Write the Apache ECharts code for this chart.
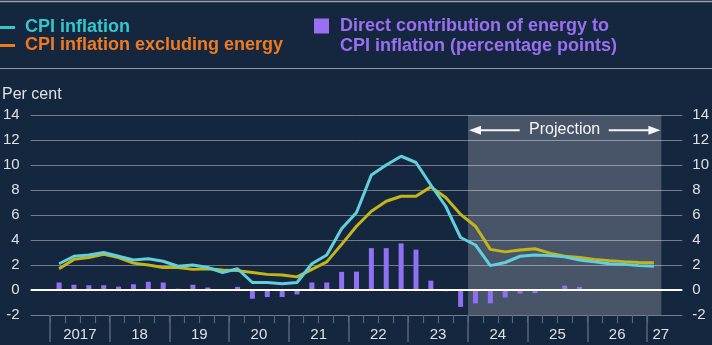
<!DOCTYPE html>
<html><head><meta charset="utf-8">
<script src="https://cdn.jsdelivr.net/npm/echarts@6/dist/echarts.min.js"></script>
<style>html,body{margin:0;padding:0;background:#15263f}#c{width:712px;height:345px}</style>
</head><body><div id="c"></div><script>
// Quarterly data, 2017 Q1 .. 2027 Q1 (projection from 2024 Q1)
const yearLabels = ['2017','18','19','20','21','22','23','24','25','26','27'];
const cpi = [2.1, 2.7, 2.8, 3.0, 2.7, 2.4, 2.5, 2.3, 1.9, 2.0, 1.8, 1.4, 1.7, 0.6, 0.6, 0.5, 0.6, 2.1, 2.8, 4.9, 6.2, 9.2, 10.0, 10.7, 10.2, 8.4, 6.7, 4.2, 3.6, 1.95, 2.2, 2.7, 2.8, 2.75, 2.65, 2.4, 2.25, 2.1, 2.05, 1.95, 1.9];
const cpiExEnergy = [1.7, 2.45, 2.6, 2.85, 2.6, 2.15, 2.0, 1.8, 1.8, 1.65, 1.7, 1.6, 1.55, 1.4, 1.25, 1.2, 1.05, 1.65, 2.25, 3.65, 5.1, 6.3, 7.1, 7.5, 7.5, 8.25, 7.4, 6.05, 5.1, 3.25, 3.05, 3.2, 3.3, 2.95, 2.7, 2.6, 2.45, 2.35, 2.27, 2.2, 2.18];
const energyContribution = [0.6, 0.42, 0.38, 0.38, 0.27, 0.46, 0.66, 0.6, 0.1, 0.42, 0.2, 0.0, 0.25, -0.7, -0.56, -0.56, -0.35, 0.6, 0.6, 1.45, 1.47, 3.35, 3.35, 3.73, 3.23, 0.75, -0.1, -1.35, -1.07, -1.07, -0.6, -0.28, -0.25, -0.03, 0.35, 0.25, 0.05, 0.02, 0.0, 0.0, 0.0];
const projectionStartQuarter = 28; // 2024 Q1
const projectionEndQuarter = 41;   // end of 2027 Q1
const yMin = -2, yMax = 14, yStep = 2;

const FONT = '"Liberation Sans", Arial, sans-serif';
const LABEL = '#dde1e6';
const TICK = '#56657a';
const names = ['CPI inflation', 'CPI inflation excluding energy', 'Direct contribution of energy to\nCPI inflation (percentage points)'];
const toXY = arr => arr.map((v, i) => [i + 0.5, v]);

const chart = echarts.init(document.getElementById('c'), null, {renderer: 'canvas'});
chart.setOption({
  backgroundColor: '#15263f',
  animation: false,
  textStyle: {fontFamily: FONT},
  grid: [
    {left: 29, right: 29, top: 115, bottom: 30},
    {left: 50, right: 65, top: 115, bottom: 30},
    {left: 50, right: 65, top: 115, bottom: 30}
  ],
  legend: [{
    left: 0, top: 17.5, padding: 0, orient: 'vertical', itemGap: -2, itemWidth: 15, itemHeight: 3, icon: 'rect',
    selectedMode: false,
    textStyle: {fontSize: 18, fontWeight: 'bold', lineHeight: 20, padding: [0, 0, 0, 5], fontFamily: FONT},
    data: [
      {name: names[0], itemStyle: {color: '#35c6cc'}, textStyle: {color: '#35c6cc'}},
      {name: names[1], itemStyle: {color: '#f07a22'}, textStyle: {color: '#f07a22'}}
    ]
  }, {
    left: 314, top: -4, padding: 0, itemWidth: 15, itemHeight: 15, icon: 'rect', selectedMode: false,
    formatter: n => ' \n' + n,
    textStyle: {fontSize: 18, fontWeight: 'bold', lineHeight: 20, padding: [0, 0, 0, 6], fontFamily: FONT},
    data: [{name: names[2], itemStyle: {color: '#9a70f2'}, textStyle: {color: '#9a70f2'}}]
  }],
  xAxis: [
    {type: 'value', gridIndex: 0, min: -1.41, max: 42.41, show: false},
    {type: 'category', gridIndex: 1, position: 'bottom', data: yearLabels.slice(0, 10), boundaryGap: true,
      axisLine: {show: false, onZero: false}, splitLine: {show: false},
      axisTick: {show: true, length: 27, lineStyle: {color: TICK, width: 1.5}},
      axisLabel: {interval: 0, color: LABEL, fontSize: 15, margin: 12, fontFamily: FONT}},
    {type: 'value', gridIndex: 2, position: 'bottom', min: 0, max: 40, interval: 1,
      axisLine: {show: false, onZero: false}, splitLine: {show: false}, axisLabel: {show: false},
      axisTick: {show: true, length: 8, lineStyle: {color: TICK, width: 1.2}}}
  ],
  yAxis: [
    {type: 'value', gridIndex: 0, min: yMin, max: yMax, interval: yStep, position: 'left',
      axisLine: {show: false}, axisTick: {show: false},
      axisLabel: {color: LABEL, fontSize: 15, margin: 11, fontFamily: FONT},
      splitLine: {lineStyle: {color: 'rgba(255,255,255,0.4)', width: 1}}},
    {type: 'value', gridIndex: 0, min: yMin, max: yMax, interval: yStep, position: 'right',
      axisLine: {show: false}, axisTick: {show: false}, splitLine: {show: false},
      axisLabel: {color: LABEL, fontSize: 15, margin: 10, fontFamily: FONT}},
    {type: 'value', gridIndex: 1, min: yMin, max: yMax, show: false},
    {type: 'value', gridIndex: 2, min: yMin, max: yMax, show: false}
  ],
  series: [
    {name: names[2], type: 'bar', xAxisIndex: 0, yAxisIndex: 0, barWidth: 5, z: 2,
      itemStyle: {color: '#9070f4'}, data: toXY(energyContribution),
      markArea: {silent: true, itemStyle: {color: 'rgba(255,255,255,0.22)'},
        data: [[{xAxis: projectionStartQuarter, yAxis: yMin}, {xAxis: projectionEndQuarter, yAxis: yMax}]]},
      markLine: {silent: true, symbol: ['none', 'none'], label: {show: false},
        lineStyle: {color: '#ffffff', width: 2, type: 'solid'}, data: [{yAxis: 0}]}},
    {name: names[1], type: 'line', xAxisIndex: 0, yAxisIndex: 0, z: 3, symbol: 'none',
      lineStyle: {color: '#c3b61a', width: 3}, itemStyle: {color: '#c3b61a'}, data: toXY(cpiExEnergy)},
    {name: names[0], type: 'line', xAxisIndex: 0, yAxisIndex: 0, z: 4, symbol: 'none',
      lineStyle: {color: '#62cfdc', width: 3}, itemStyle: {color: '#62cfdc'}, data: toXY(cpi)}
  ]
});

// annotations positioned through the chart's own scales
const pA = chart.convertToPixel({xAxisIndex: 0, yAxisIndex: 0}, [projectionStartQuarter, 12.78]);
const pB = chart.convertToPixel({xAxisIndex: 0, yAxisIndex: 0}, [projectionEndQuarter, 12.78]);
const y27 = chart.convertToPixel({xAxisIndex: 0, yAxisIndex: 0}, [40, yMin]);
const xa = pA[0] + 1, xb = pB[0] - 1, ay = pA[1], cx = (xa + xb) / 2;
const W = '#f4f4f4';
chart.setOption({
  graphic: [
    {type: 'line', shape: {x1: 0, y1: 1.5, x2: 712, y2: 1.5}, style: {stroke: '#9aa4b0', lineWidth: 1.5}},
    {type: 'line', shape: {x1: 0, y1: 68.5, x2: 712, y2: 68.5}, style: {stroke: '#8f99a6', lineWidth: 1}},
    {type: 'text', left: 2, top: 87, style: {text: 'Per cent', fill: LABEL, font: '16px ' + FONT}},
    {type: 'text', x: y27[0] + 6, y: 335, style: {text: yearLabels[10], fill: LABEL, font: '15px ' + FONT, verticalAlign: 'middle', align: 'left'}},
    {type: 'text', x: cx, y: ay - 1, style: {text: 'Projection', fill: W, font: '16px ' + FONT, align: 'center', verticalAlign: 'middle'}},
    {type: 'line', shape: {x1: xa + 10, y1: ay, x2: cx - 45, y2: ay}, style: {stroke: W, lineWidth: 2}},
    {type: 'polygon', shape: {points: [[xa, ay], [xa + 12, ay - 4.5], [xa + 12, ay + 4.5]]}, style: {fill: W}},
    {type: 'line', shape: {x1: cx + 44, y1: ay, x2: xb - 10, y2: ay}, style: {stroke: W, lineWidth: 2}},
    {type: 'polygon', shape: {points: [[xb, ay], [xb - 12, ay - 4.5], [xb - 12, ay + 4.5]]}, style: {fill: W}}
  ]
});
</script></body></html>
